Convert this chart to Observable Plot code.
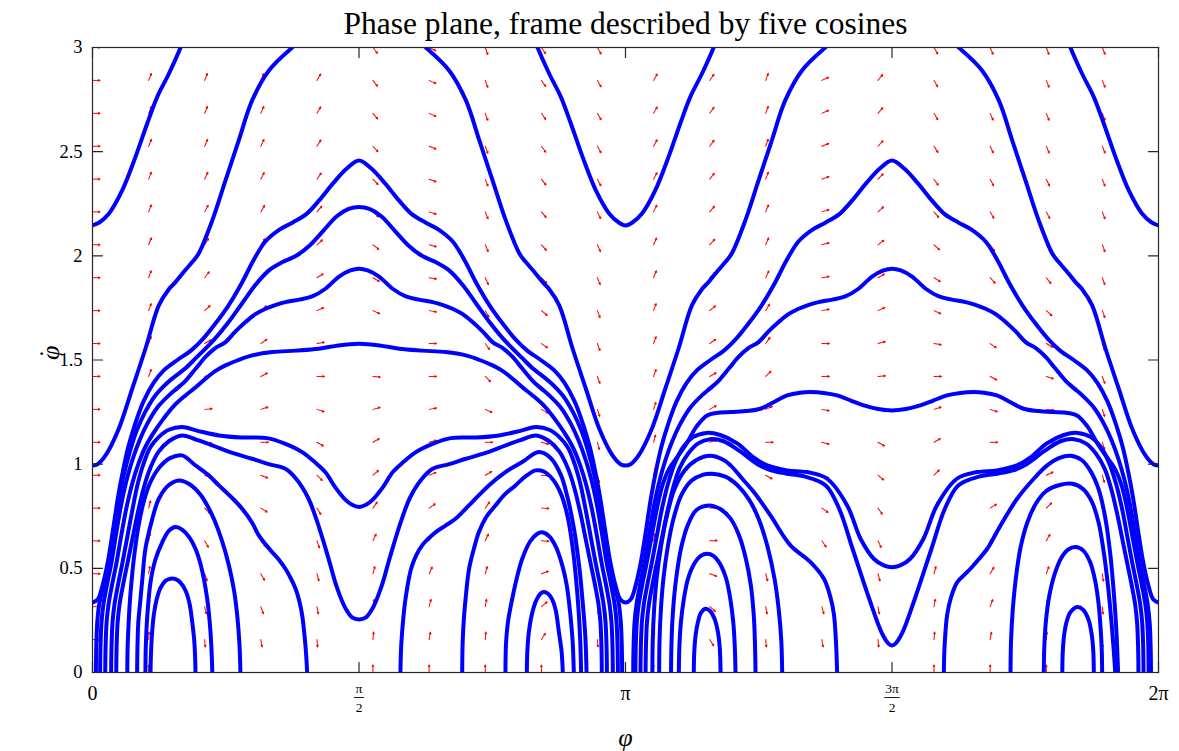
<!DOCTYPE html>
<html>
<head>
<meta charset="utf-8">
<script src="https://cdn.jsdelivr.net/npm/d3@7"></script>
<script src="https://cdn.jsdelivr.net/npm/@observablehq/plot@0.6"></script>
<style>
  html, body { margin: 0; padding: 0; background: #ffffff; }
  #chart svg { display: block; }
</style>
</head>
<body>
<div id="chart"></div>
<script>
// ---------- trajectories, [phi (rad), phiDot] ----------
// rotating orbit, high energy (leaves the window at phiDot = 3)
const t1a = [[0,2.146],[0.04,2.16],[0.096,2.202],[0.175,2.314],[0.253,2.474],[0.322,2.634],[0.381,2.762],[0.45,2.874],[0.519,3.0],[0.55,3.07]];
const t1b = [[2.59,3.07],[2.623,3.0],[2.692,2.874],[2.761,2.762],[2.82,2.634],[2.889,2.474],[2.967,2.314],[3.046,2.202],[3.102,2.16],[3.142,2.146],[3.182,2.16],[3.238,2.202],[3.317,2.314],[3.395,2.474],[3.464,2.634],[3.523,2.762],[3.592,2.874],[3.661,3.0],[3.69,3.07]];
const t1c = [[5.733,3.07],[5.764,3.0],[5.833,2.874],[5.902,2.762],[5.961,2.634],[6.03,2.474],[6.108,2.314],[6.187,2.202],[6.243,2.16],[6.283,2.146]];
// rotating orbit through phiDot = 1
const t2a = [[0,0.994],[0.03,1.0],[0.077,1.042],[0.155,1.17],[0.234,1.362],[0.312,1.554],[0.391,1.762],[0.45,1.84],[0.489,1.874],[0.54,1.925],[0.588,1.97],[0.625,2.01],[0.706,2.17],[0.784,2.362],[0.862,2.554],[0.941,2.746],[1.04,2.89],[1.177,3.0],[1.24,3.04]];
const t2b = [[1.902,3.04],[1.965,3.0],[2.102,2.89],[2.201,2.746],[2.28,2.554],[2.358,2.362],[2.436,2.17],[2.517,2.01],[2.554,1.97],[2.602,1.925],[2.653,1.874],[2.692,1.84],[2.751,1.762],[2.83,1.554],[2.908,1.362],[2.987,1.17],[3.065,1.042],[3.112,1.0],[3.142,0.994],[3.172,1.0],[3.219,1.042],[3.297,1.17],[3.376,1.362],[3.454,1.554],[3.533,1.762],[3.592,1.84],[3.631,1.874],[3.682,1.925],[3.73,1.97],[3.767,2.01],[3.848,2.17],[3.926,2.362],[4.004,2.554],[4.083,2.746],[4.182,2.89],[4.319,3.0],[4.382,3.04]];
const t2c = [[5.043,3.04],[5.106,3.0],[5.243,2.89],[5.342,2.746],[5.421,2.554],[5.499,2.362],[5.577,2.17],[5.658,2.01],[5.695,1.97],[5.743,1.925],[5.794,1.874],[5.833,1.84],[5.892,1.762],[5.971,1.554],[6.049,1.362],[6.128,1.17],[6.206,1.042],[6.253,1.0],[6.283,0.994]];
// slowest rotating orbit, 0.336 at 0 and pi, 2.458 at pi/2 and 3pi/2
const t3 = [[0,0.336],[0.03,0.35],[0.06,0.42],[0.09,0.53],[0.12,0.68],[0.15,0.84],[0.18,0.97],[0.21,1.08],[0.25,1.19],[0.3,1.3],[0.36,1.39],[0.42,1.45],[0.5,1.5],[0.58,1.545],[0.65,1.6],[0.72,1.67],[0.8,1.76],[0.88,1.87],[0.95,1.98],[1.02,2.07],[1.1,2.125],[1.18,2.16],[1.26,2.2],[1.34,2.27],[1.42,2.35],[1.5,2.42],[1.571,2.458],
  [1.642,2.42],[1.722,2.35],[1.802,2.27],[1.882,2.2],[1.962,2.16],[2.042,2.125],[2.122,2.07],[2.192,1.98],[2.262,1.87],[2.342,1.76],[2.422,1.67],[2.492,1.6],[2.562,1.545],[2.642,1.5],[2.722,1.45],[2.782,1.39],[2.842,1.3],[2.892,1.19],[2.932,1.08],[2.962,0.97],[2.992,0.84],[3.022,0.68],[3.052,0.53],[3.082,0.42],[3.112,0.35],[3.142,0.336],
  [3.172,0.35],[3.202,0.42],[3.232,0.53],[3.262,0.68],[3.292,0.84],[3.322,0.97],[3.352,1.08],[3.392,1.19],[3.442,1.3],[3.502,1.39],[3.562,1.45],[3.642,1.5],[3.722,1.545],[3.792,1.6],[3.862,1.67],[3.942,1.76],[4.022,1.87],[4.092,1.98],[4.162,2.07],[4.242,2.125],[4.322,2.16],[4.402,2.2],[4.482,2.27],[4.562,2.35],[4.642,2.42],[4.712,2.458],
  [4.783,2.42],[4.863,2.35],[4.943,2.27],[5.023,2.2],[5.103,2.16],[5.183,2.125],[5.263,2.07],[5.333,1.98],[5.403,1.87],[5.483,1.76],[5.563,1.67],[5.633,1.6],[5.703,1.545],[5.783,1.5],[5.863,1.45],[5.923,1.39],[5.983,1.3],[6.033,1.19],[6.073,1.08],[6.103,0.97],[6.133,0.84],[6.163,0.68],[6.193,0.53],[6.223,0.42],[6.253,0.35],[6.283,0.336]];

// librations across pi/2
const c2 = [[0.02,0],[0.022,0.12],[0.028,0.24],[0.04,0.33],[0.065,0.42],[0.095,0.53],[0.125,0.68],[0.155,0.83],[0.185,0.95],[0.22,1.06],[0.26,1.16],[0.31,1.25],[0.37,1.33],[0.44,1.39],[0.5,1.43],[0.548,1.46],[0.61,1.51],[0.666,1.555],[0.73,1.61],[0.8,1.68],[0.88,1.77],[0.96,1.86],[1.04,1.93],[1.12,1.97],[1.2,2.0],[1.28,2.05],[1.36,2.12],[1.44,2.19],[1.51,2.225],[1.571,2.234],
  [1.632,2.225],[1.702,2.19],[1.782,2.12],[1.862,2.05],[1.942,2.0],[2.022,1.97],[2.102,1.93],[2.182,1.86],[2.262,1.77],[2.342,1.68],[2.412,1.61],[2.476,1.555],[2.532,1.51],[2.594,1.46],[2.642,1.43],[2.702,1.39],[2.772,1.33],[2.832,1.25],[2.882,1.16],[2.922,1.06],[2.957,0.95],[2.987,0.83],[3.017,0.68],[3.047,0.53],[3.077,0.42],[3.102,0.33],[3.114,0.24],[3.12,0.12],[3.122,0]];
const c3 = [[0.045,0],[0.047,0.12],[0.053,0.24],[0.065,0.33],[0.085,0.42],[0.11,0.52],[0.14,0.67],[0.17,0.81],[0.2,0.92],[0.235,1.02],[0.275,1.11],[0.32,1.19],[0.38,1.27],[0.45,1.33],[0.5,1.365],[0.548,1.4],[0.61,1.46],[0.666,1.515],[0.72,1.555],[0.784,1.586],[0.84,1.635],[0.902,1.682],[0.96,1.72],[1.02,1.746],[1.08,1.765],[1.137,1.778],[1.22,1.79],[1.295,1.805],[1.373,1.842],[1.453,1.9],[1.52,1.93],[1.571,1.938],
  [1.622,1.93],[1.689,1.9],[1.769,1.842],[1.847,1.805],[1.922,1.79],[2.005,1.778],[2.062,1.765],[2.122,1.746],[2.182,1.72],[2.24,1.682],[2.302,1.635],[2.358,1.586],[2.422,1.555],[2.476,1.515],[2.532,1.46],[2.594,1.4],[2.642,1.365],[2.692,1.33],[2.762,1.27],[2.822,1.19],[2.867,1.11],[2.907,1.02],[2.942,0.92],[2.972,0.81],[3.002,0.67],[3.032,0.52],[3.057,0.42],[3.077,0.33],[3.089,0.24],[3.095,0.12],[3.097,0]];
const c4 = [[0.075,0],[0.077,0.12],[0.083,0.24],[0.095,0.33],[0.115,0.42],[0.14,0.52],[0.17,0.66],[0.2,0.79],[0.235,0.91],[0.27,1.0],[0.31,1.08],[0.36,1.15],[0.42,1.22],[0.48,1.28],[0.548,1.33],[0.61,1.37],[0.666,1.41],[0.73,1.45],[0.784,1.474],[0.86,1.5],[0.941,1.522],[1.059,1.538],[1.2,1.545],[1.334,1.554],[1.45,1.57],[1.571,1.578],
  [1.692,1.57],[1.808,1.554],[1.942,1.545],[2.083,1.538],[2.201,1.522],[2.282,1.5],[2.358,1.474],[2.412,1.45],[2.476,1.41],[2.532,1.37],[2.594,1.33],[2.662,1.28],[2.722,1.22],[2.782,1.15],[2.832,1.08],[2.872,1.0],[2.907,0.91],[2.942,0.79],[2.972,0.66],[3.002,0.52],[3.027,0.42],[3.047,0.33],[3.059,0.24],[3.065,0.12],[3.067,0]];
const c6 = [[0.11,0],[0.112,0.12],[0.118,0.24],[0.13,0.33],[0.15,0.42],[0.175,0.52],[0.205,0.65],[0.235,0.78],[0.265,0.9],[0.3,1.0],[0.34,1.08],[0.39,1.13],[0.45,1.165],[0.528,1.178],[0.62,1.16],[0.745,1.138],[0.88,1.128],[1.03,1.125],[1.13,1.1],[1.236,1.058],[1.31,1.01],[1.373,0.961],[1.43,0.89],[1.49,0.83],[1.53,0.805],[1.571,0.795],
  [1.612,0.805],[1.652,0.83],[1.712,0.89],[1.769,0.961],[1.832,1.01],[1.906,1.058],[2.012,1.1],[2.112,1.125],[2.262,1.128],[2.397,1.138],[2.522,1.16],[2.614,1.178],[2.692,1.165],[2.752,1.13],[2.802,1.08],[2.842,1.0],[2.877,0.9],[2.907,0.78],[2.937,0.65],[2.967,0.52],[2.992,0.42],[3.012,0.33],[3.024,0.24],[3.03,0.12],[3.032,0]];
const c7 = [[0.14,0],[0.142,0.12],[0.148,0.24],[0.16,0.33],[0.18,0.42],[0.205,0.52],[0.235,0.64],[0.265,0.76],[0.3,0.88],[0.34,0.98],[0.39,1.06],[0.45,1.11],[0.528,1.138],[0.62,1.115],[0.706,1.09],[0.82,1.055],[0.941,1.026],[1.04,1.0],[1.137,0.978],[1.2,0.93],[1.27,0.84],[1.33,0.71],[1.39,0.55],[1.44,0.41],[1.49,0.31],[1.53,0.265],[1.571,0.255],
  [1.612,0.265],[1.652,0.31],[1.702,0.41],[1.752,0.55],[1.812,0.71],[1.872,0.84],[1.942,0.93],[2.005,0.978],[2.102,1.0],[2.201,1.026],[2.322,1.055],[2.436,1.09],[2.522,1.115],[2.614,1.138],[2.692,1.11],[2.752,1.06],[2.802,0.98],[2.842,0.88],[2.877,0.76],[2.907,0.64],[2.937,0.52],[2.962,0.42],[2.982,0.33],[2.994,0.24],[3.0,0.12],[3.002,0]];
// librations inside the well left of pi/2
const a4 = [[0.205,0],[0.207,0.12],[0.213,0.24],[0.222,0.36],[0.235,0.48],[0.252,0.6],[0.275,0.72],[0.305,0.83],[0.345,0.92],[0.4,0.99],[0.46,1.03],[0.528,1.042],[0.607,0.994],[0.68,0.95],[0.745,0.898],[0.82,0.84],[0.882,0.786],[0.94,0.72],[0.98,0.658],[1.02,0.615],[1.059,0.578],[1.1,0.54],[1.137,0.498],[1.17,0.45],[1.197,0.402],[1.22,0.34],[1.236,0.274],[1.255,0.13],[1.262,0.05],[1.265,0]];
const a3 = [[0.263,0],[0.265,0.12],[0.27,0.24],[0.283,0.354],[0.296,0.47],[0.312,0.594],[0.35,0.73],[0.391,0.834],[0.45,0.9],[0.509,0.922],[0.57,0.905],[0.64,0.85],[0.706,0.754],[0.76,0.64],[0.804,0.514],[0.835,0.39],[0.853,0.274],[0.866,0.14],[0.872,0]];
const a2 = [[0.312,0],[0.314,0.12],[0.322,0.26],[0.342,0.434],[0.37,0.54],[0.411,0.625],[0.45,0.68],[0.489,0.698],[0.53,0.685],[0.57,0.65],[0.607,0.594],[0.64,0.51],[0.676,0.354],[0.695,0.2],[0.703,0.08],[0.706,0]];
const a1 = [[0.342,0],[0.345,0.1],[0.352,0.2],[0.362,0.28],[0.378,0.35],[0.4,0.405],[0.43,0.44],[0.46,0.45],[0.49,0.448],[0.52,0.43],[0.55,0.39],[0.572,0.33],[0.588,0.241],[0.6,0.15],[0.605,0.07],[0.607,0]];
// librations inside the well right of pi/2
const b4 = [[1.815,0],[1.818,0.1],[1.825,0.194],[1.845,0.354],[1.884,0.514],[1.943,0.61],[2.022,0.673],[2.08,0.705],[2.14,0.738],[2.238,0.818],[2.336,0.898],[2.434,0.962],[2.533,1.01],[2.629,1.058],[2.7,1.03],[2.76,0.95],[2.8,0.84],[2.84,0.68],[2.87,0.5],[2.89,0.33],[2.905,0.17],[2.912,0]];
const b3 = [[2.179,0],[2.182,0.15],[2.19,0.27],[2.199,0.354],[2.22,0.5],[2.25,0.6],[2.277,0.673],[2.32,0.745],[2.375,0.802],[2.43,0.855],[2.493,0.898],[2.55,0.94],[2.611,0.97],[2.66,0.965],[2.71,0.93],[2.76,0.86],[2.8,0.75],[2.83,0.6],[2.85,0.45],[2.865,0.3],[2.875,0.15],[2.88,0]];
const b2 = [[2.434,0],[2.438,0.15],[2.45,0.25],[2.474,0.354],[2.5,0.45],[2.533,0.546],[2.58,0.63],[2.62,0.665],[2.651,0.673],[2.69,0.655],[2.73,0.605],[2.769,0.514],[2.795,0.42],[2.817,0.274],[2.83,0.15],[2.837,0]];
const b1 = [[2.56,0],[2.563,0.1],[2.572,0.194],[2.59,0.28],[2.615,0.345],[2.64,0.378],[2.66,0.386],[2.685,0.378],[2.71,0.35],[2.73,0.3],[2.749,0.194],[2.765,0.1],[2.772,0]];

// librations across 3pi/2
const d1 = [[3.187,0],[3.189,0.12],[3.195,0.24],[3.207,0.33],[3.227,0.42],[3.252,0.52],[3.282,0.67],[3.312,0.81],[3.342,0.92],[3.377,1.02],[3.417,1.11],[3.462,1.19],[3.522,1.27],[3.592,1.33],[3.642,1.365],[3.69,1.4],[3.752,1.46],[3.808,1.515],[3.862,1.555],[3.926,1.586],[3.982,1.635],[4.044,1.682],[4.102,1.72],[4.162,1.746],[4.222,1.765],[4.279,1.778],[4.362,1.79],[4.437,1.805],[4.515,1.842],[4.595,1.9],[4.662,1.93],[4.712,1.938],
  [4.764,1.93],[4.831,1.9],[4.911,1.842],[4.989,1.805],[5.064,1.79],[5.147,1.778],[5.204,1.765],[5.264,1.746],[5.324,1.72],[5.382,1.682],[5.444,1.635],[5.5,1.586],[5.564,1.555],[5.618,1.515],[5.674,1.46],[5.736,1.4],[5.784,1.365],[5.834,1.33],[5.904,1.27],[5.964,1.19],[6.009,1.11],[6.049,1.02],[6.084,0.92],[6.114,0.81],[6.144,0.67],[6.174,0.52],[6.199,0.42],[6.219,0.33],[6.231,0.24],[6.237,0.12],[6.239,0]];
const d2 = [[3.2,0],[3.202,0.12],[3.208,0.24],[3.22,0.33],[3.24,0.42],[3.265,0.52],[3.295,0.65],[3.325,0.78],[3.36,0.9],[3.4,0.98],[3.443,1.03],[3.502,1.1],[3.56,1.18],[3.623,1.234],[3.7,1.248],[3.761,1.25],[3.85,1.255],[3.937,1.266],[4.02,1.3],[4.095,1.33],[4.17,1.343],[4.232,1.346],[4.31,1.342],[4.389,1.33],[4.47,1.305],[4.546,1.282],[4.63,1.265],[4.712,1.258],
  [4.795,1.265],[4.879,1.282],[4.955,1.305],[5.036,1.33],[5.115,1.342],[5.193,1.346],[5.255,1.343],[5.33,1.33],[5.405,1.3],[5.488,1.266],[5.575,1.255],[5.664,1.25],[5.725,1.248],[5.802,1.234],[5.865,1.18],[5.923,1.1],[5.982,1.03],[6.025,0.98],[6.065,0.9],[6.1,0.78],[6.13,0.65],[6.16,0.52],[6.185,0.42],[6.205,0.33],[6.217,0.24],[6.223,0.12],[6.225,0]];
const d3 = [[3.23,0],[3.232,0.12],[3.238,0.24],[3.25,0.33],[3.27,0.42],[3.295,0.52],[3.325,0.65],[3.355,0.78],[3.39,0.9],[3.43,1.0],[3.48,1.08],[3.54,1.13],[3.62,1.15],[3.7,1.14],[3.8,1.1],[3.9,1.03],[3.977,0.994],[4.095,0.97],[4.213,0.962],[4.33,0.93],[4.448,0.802],[4.527,0.642],[4.605,0.546],[4.664,0.514],[4.712,0.505],
  [4.761,0.514],[4.82,0.546],[4.898,0.642],[4.977,0.802],[5.095,0.93],[5.212,0.962],[5.33,0.97],[5.448,0.994],[5.525,1.03],[5.625,1.1],[5.725,1.14],[5.805,1.15],[5.885,1.13],[5.945,1.08],[5.995,1.0],[6.035,0.9],[6.07,0.78],[6.1,0.65],[6.13,0.52],[6.155,0.42],[6.175,0.33],[6.187,0.24],[6.193,0.12],[6.195,0]];
const d4 = [[3.26,0],[3.262,0.12],[3.268,0.24],[3.28,0.33],[3.3,0.42],[3.325,0.52],[3.355,0.64],[3.385,0.76],[3.42,0.88],[3.46,0.98],[3.51,1.05],[3.57,1.1],[3.64,1.12],[3.72,1.11],[3.82,1.06],[3.92,1.0],[4.0,0.97],[4.086,0.955],[4.2,0.94],[4.322,0.898],[4.401,0.786],[4.48,0.594],[4.578,0.354],[4.65,0.194],[4.69,0.14],[4.712,0.13],
  [4.734,0.14],[4.775,0.194],[4.847,0.354],[4.945,0.594],[5.024,0.786],[5.103,0.898],[5.225,0.94],[5.339,0.955],[5.425,0.97],[5.505,1.0],[5.605,1.06],[5.705,1.11],[5.785,1.12],[5.855,1.1],[5.915,1.05],[5.965,0.98],[6.005,0.88],[6.04,0.76],[6.07,0.64],[6.1,0.52],[6.125,0.42],[6.145,0.33],[6.157,0.24],[6.163,0.12],[6.165,0]];
// librations inside the well right of pi
const e5 = [[3.3,0],[3.302,0.15],[3.31,0.3],[3.325,0.45],[3.35,0.6],[3.385,0.75],[3.43,0.88],[3.49,0.97],[3.56,1.02],[3.64,1.04],[3.72,1.02],[3.761,0.994],[3.83,0.93],[3.898,0.866],[3.996,0.754],[4.114,0.61],[4.232,0.53],[4.311,0.45],[4.35,0.36],[4.37,0.28],[4.382,0.15],[4.389,0]];
const e4 = [[3.34,0],[3.342,0.15],[3.35,0.3],[3.365,0.45],[3.39,0.6],[3.425,0.74],[3.47,0.85],[3.53,0.92],[3.6,0.95],[3.653,0.954],[3.73,0.94],[3.8,0.9],[3.87,0.83],[3.93,0.73],[3.98,0.6],[4.02,0.45],[4.045,0.3],[4.06,0.15],[4.065,0]];
const e3 = [[3.41,0],[3.413,0.15],[3.422,0.3],[3.44,0.45],[3.47,0.6],[3.51,0.71],[3.56,0.78],[3.633,0.802],[3.7,0.785],[3.76,0.74],[3.81,0.66],[3.85,0.55],[3.88,0.42],[3.898,0.27],[3.905,0.13],[3.908,0]];
const e2 = [[3.456,0],[3.459,0.12],[3.468,0.24],[3.485,0.35],[3.51,0.45],[3.545,0.52],[3.585,0.56],[3.623,0.57],[3.66,0.56],[3.7,0.52],[3.735,0.45],[3.76,0.35],[3.777,0.24],[3.786,0.12],[3.79,0]];
const e1 = [[3.544,0],[3.547,0.1],[3.555,0.18],[3.568,0.24],[3.585,0.285],[3.613,0.306],[3.64,0.295],[3.665,0.26],[3.685,0.2],[3.697,0.12],[3.702,0]];
// librations inside the well left of 2pi
const f4 = [[5.018,0],[5.022,0.12],[5.037,0.274],[5.06,0.36],[5.097,0.434],[5.14,0.47],[5.175,0.498],[5.23,0.55],[5.274,0.594],[5.352,0.706],[5.45,0.834],[5.548,0.93],[5.627,0.994],[5.7,1.03],[5.765,1.04],[5.83,1.02],[5.88,0.97],[5.93,0.88],[5.97,0.74],[6.0,0.56],[6.02,0.38],[6.035,0.2],[6.045,0]];
const f3 = [[5.411,0],[5.414,0.15],[5.424,0.3],[5.442,0.45],[5.47,0.6],[5.51,0.72],[5.56,0.81],[5.62,0.87],[5.7,0.9],[5.775,0.906],[5.84,0.88],[5.89,0.82],[5.93,0.72],[5.96,0.58],[5.985,0.42],[6.005,0.25],[6.02,0.1],[6.028,0]];
const f2 = [[5.607,0],[5.61,0.12],[5.62,0.25],[5.64,0.37],[5.67,0.47],[5.71,0.55],[5.75,0.59],[5.794,0.602],[5.84,0.585],[5.88,0.53],[5.91,0.44],[5.93,0.33],[5.943,0.2],[5.949,0.1],[5.951,0]];
const f1 = [[5.716,0],[5.719,0.1],[5.727,0.18],[5.742,0.245],[5.765,0.29],[5.804,0.314],[5.84,0.3],[5.87,0.255],[5.89,0.18],[5.899,0.1],[5.902,0]];

const trajectories = [t1a, t1b, t1c, t2a, t2b, t2c, t3, c2, c3, c4, c6, c7, a4, a3, a2, a1, b4, b3, b2, b1,
  d1, d2, d3, d4, e5, e4, e3, e2, e1, f4, f3, f2, f1];

// ---------- direction field on a 20 x 20 grid ----------
const gridPhi = [0, 0.331, 0.661, 0.992, 1.323, 1.653, 1.984, 2.315, 2.646, 2.976, 3.307, 3.638, 3.968, 4.299, 4.63, 4.96, 5.291, 5.622, 5.952, 6.283];
const gridDot = [0, 0.158, 0.316, 0.474, 0.632, 0.789, 0.947, 1.105, 1.263, 1.421, 1.579, 1.737, 1.895, 2.053, 2.211, 2.368, 2.526, 2.684, 2.842, 3.0];
// on-screen direction of each arrow, degrees counter-clockwise from +phi (one row per gridDot)
const arrowAngle = [
  [null, 90, -90, -90, -90, 90, 90, 90, 90, -90, 90, -90, -90, -90, -90, 90, 90, 90, -90, null],
  [0, 87, -85, -80, -85, 85, 80, 85, 58, -85, 85, -58, -85, -80, -85, 85, 80, 85, -87, 0],
  [0, 84, -78, -70, -80, 80, 75, 80, 40, -82, 82, -40, -80, -75, -80, 80, 70, 78, -84, 0],
  [0, 81, -70, -60, -75, 75, 65, 75, 20, -80, 80, -20, -75, -65, -75, 75, 60, 70, -81, 0],
  [0, 78, -60, -50, -70, 65, 55, 65, -3, -78, 78, 3, -65, -55, -65, 70, 50, 60, -78, 0],
  [0, 76, -45, -32, -58, 55, 35, 55, -3, -76, 76, 3, -55, -35, -55, 58, 32, 45, -76, 0],
  [0, 74, -25, -22, -45, 40, 22, 30, -5, -75, 75, 5, -30, -22, -40, 45, 22, 25, -74, 0],
  [0, 72, -8, 0, -30, 30, 15, 0, -15, -75, 75, 15, 0, -15, -30, 30, 0, 8, -72, 0],
  [0, 71, 5, 18, -18, 15, 10, -25, -30, -72, 72, 30, 25, -10, -15, 18, -18, -5, -71, 0],
  [0, 70, 18, 28, 0, -5, 0, -45, -30, -70, 70, 30, 45, 0, 5, 0, -28, -18, -70, 0],
  [0, 70, 30, 35, 10, -15, 0, -55, -35, -70, 70, 35, 55, 0, 15, -10, -35, -30, -70, 0],
  [0, 70, 42, 40, 25, -25, -10, -60, -40, -70, 70, 40, 60, 10, 25, -25, -40, -42, -70, 0],
  [0, 70, 52, 48, 32, -30, -10, -65, -45, -68, 68, 45, 65, 10, 30, -32, -48, -52, -70, 0],
  [0, 69, 58, 55, 42, -38, -15, -67, -48, -66, 66, 48, 67, 15, 38, -42, -55, -58, -69, 0],
  [0, 69, 62, 60, 50, -42, -18, -68, -50, -64, 64, 50, 68, 18, 42, -50, -60, -62, -69, 0],
  [0, 69, 65, 63, 55, -46, -20, -69, -52, -62, 62, 52, 69, 20, 46, -55, -63, -65, -69, 0],
  [0, 68, 67, 65, 58, -48, -22, -70, -54, -61, 61, 54, 70, 22, 48, -58, -65, -67, -68, 0],
  [0, 68, 68, 66, 60, -50, -24, -70, -55, -60, 60, 55, 70, 24, 50, -60, -66, -68, -68, 0],
  [0, 68, 68, 67, 60, -52, -25, -70, -55, -60, 60, 55, 70, 25, 52, -60, -67, -68, -68, 0],
  [0, 68, 69, 67, 60, -53, -26, -70, -56, -60, 60, 56, 70, 26, 53, -60, -67, -69, -68, 0]
];

// ---------- axes ----------
const yTicks = [0, 0.5, 1, 1.5, 2, 2.5, 3];
const yTickLabels = ["0", "0.5", "1", "1.5", "2", "2.5", "3"];
const xTicks = [0, Math.PI / 2, Math.PI, 3 * Math.PI / 2, 2 * Math.PI];
const xPlainTicks = [0, Math.PI, 2 * Math.PI];
const xPlainLabels = ["0", "π", "2π"];
const xFracTicks = [Math.PI / 2, 3 * Math.PI / 2];
const xFracNumerators = ["π", "3π"];
const xFracDenominators = ["2", "2"];
const xFracBarWidths = [12, 19];

const titleText = "Phase plane, frame described by five cosines";
const xLabelText = "φ";
const yLabelText = "φ";
const yLabelAccent = "\u02D9";

// ---------- assembly ----------
const lineRows = trajectories.flatMap((pts, id) => pts.map(([phi, dot]) => ({id, phi, dot})));
const arrowRows = [];
gridDot.forEach((dot, j) => gridPhi.forEach((phi, k) => {
  const a = arrowAngle[j][k];
  if (a !== null) arrowRows.push({phi, dot, a});
}));

// short shaft with a barely visible head, like a quiver arrow at this scale
const quiverShape = {
  draw(context, l) {
    const w = l * 0.11;
    context.moveTo(0, 0);
    context.lineTo(0, -l);
    context.moveTo(-w, -l + w * 2);
    context.lineTo(0, -l);
    context.lineTo(w, -l + w * 2);
  }
};
const tickShape = { draw(context, l) { context.moveTo(0, 0); context.lineTo(0, -l); } };
const barShape = { draw(context, l) { context.moveTo(-l / 2, 0); context.lineTo(l / 2, 0); } };

const axisColor = "#262626";
const serif = "'Liberation Serif', 'Times New Roman', serif";

const chart = Plot.plot({
  width: 1179,
  height: 751,
  marginLeft: 92,
  marginRight: 21,
  marginTop: 47,
  marginBottom: 79,
  style: {fontFamily: serif, background: "#ffffff", color: "#000000"},
  x: {domain: [0, 2 * Math.PI], axis: null},
  y: {domain: [0, 3], axis: null},
  marks: [
    Plot.vector(arrowRows, {
      x: "phi", y: "dot", rotate: d => 90 - d.a, length: 7.5, anchor: "start",
      shape: quiverShape, stroke: "#ff0000", strokeWidth: 1, clip: true
    }),
    Plot.line(lineRows, {
      x: "phi", y: "dot", z: "id", stroke: "#0000ff", strokeWidth: 4,
      curve: "catmull-rom", strokeLinejoin: "round", strokeLinecap: "round", clip: true
    }),
    Plot.frame({stroke: axisColor, strokeWidth: 1.2}),
    // inward ticks on all four sides
    Plot.vector(xTicks, {x: d => d, frameAnchor: "bottom", rotate: 0, length: 10, anchor: "start", shape: tickShape, stroke: axisColor, strokeWidth: 1.2}),
    Plot.vector(xTicks, {x: d => d, frameAnchor: "top", rotate: 180, length: 10, anchor: "start", shape: tickShape, stroke: axisColor, strokeWidth: 1.2}),
    Plot.vector(yTicks, {y: d => d, frameAnchor: "left", rotate: 90, length: 10, anchor: "start", shape: tickShape, stroke: axisColor, strokeWidth: 1.2}),
    Plot.vector(yTicks, {y: d => d, frameAnchor: "right", rotate: -90, length: 10, anchor: "start", shape: tickShape, stroke: axisColor, strokeWidth: 1.2}),
    // tick labels
    Plot.text(yTicks, {y: d => d, frameAnchor: "left", dx: -10, textAnchor: "end", lineAnchor: "middle", text: (d, i) => yTickLabels[i], fontSize: 18.5, fill: "#000"}),
    Plot.text(xPlainTicks, {x: d => d, frameAnchor: "bottom", dy: 21, lineAnchor: "middle", text: (d, i) => xPlainLabels[i], fontSize: 20, fill: "#000"}),
    Plot.text(xFracTicks, {x: d => d, frameAnchor: "bottom", dy: 16, lineAnchor: "middle", text: (d, i) => xFracNumerators[i], fontSize: 13.5, fill: "#000"}),
    Plot.vector(xFracTicks, {x: d => d, frameAnchor: "bottom", dy: 25, rotate: 0, length: (d, i) => xFracBarWidths[i], anchor: "start", shape: barShape, stroke: "#000", strokeWidth: 0.9}),
    Plot.text(xFracTicks, {x: d => d, frameAnchor: "bottom", dy: 35, lineAnchor: "middle", text: (d, i) => xFracDenominators[i], fontSize: 13.5, fill: "#000"}),
    // axis labels and title
    Plot.text([xLabelText], {frameAnchor: "bottom", dy: 65, lineAnchor: "middle", text: d => d, fontSize: 26, fontStyle: "italic", fill: "#000"}),
    Plot.text([yLabelText], {frameAnchor: "left", dx: -42, lineAnchor: "middle", rotate: -90, text: d => d, fontSize: 26, fontStyle: "italic", fill: "#000"}),
    Plot.text([yLabelAccent], {frameAnchor: "left", dx: -44, dy: -2, lineAnchor: "middle", rotate: -90, text: d => d, fontSize: 26, fill: "#000"}),
    Plot.text([titleText], {frameAnchor: "top", dy: -24, lineAnchor: "middle", text: d => d, fontSize: 31.5, fill: "#000"})
  ]
});

document.getElementById("chart").append(chart);
</script>
</body>
</html>
